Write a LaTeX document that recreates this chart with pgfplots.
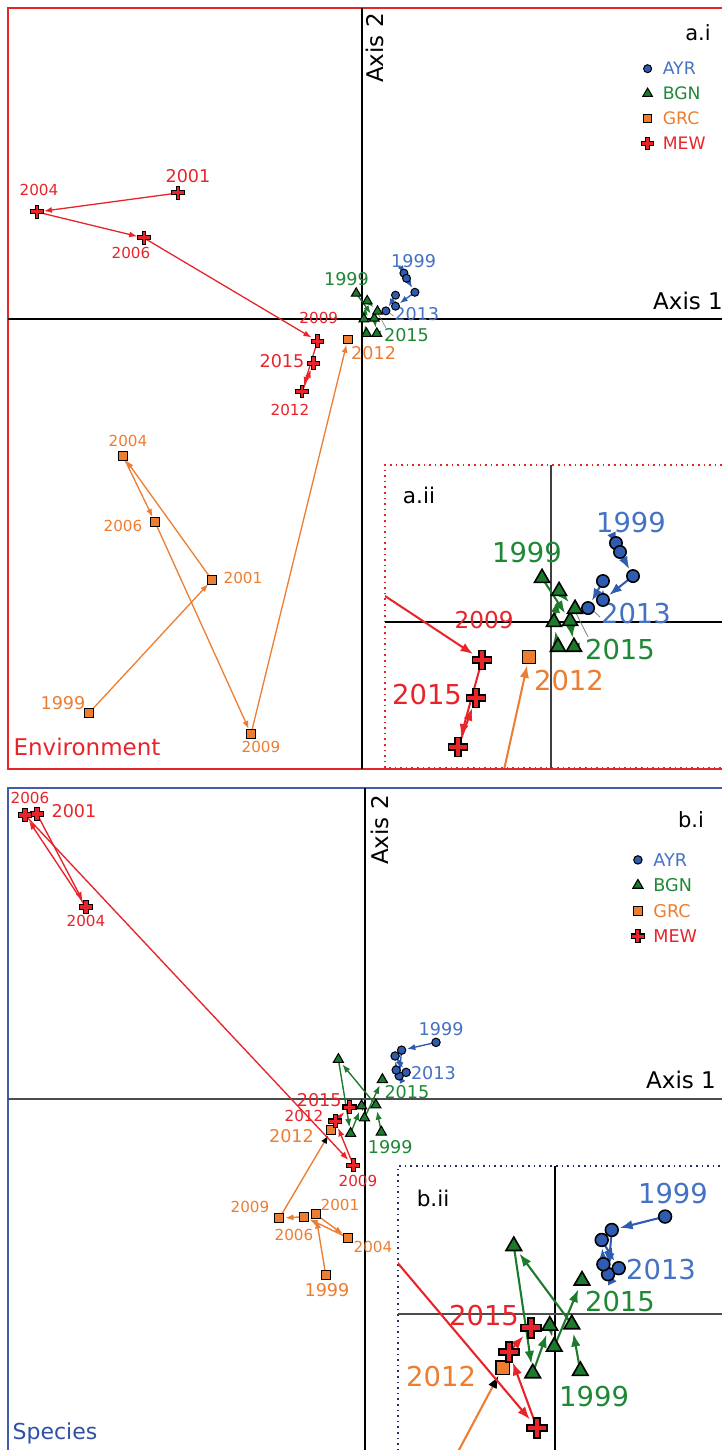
\documentclass[border=0pt]{standalone}
\usepackage{fontspec}
\setmainfont{DejaVu Sans}
\usepackage{pgfplots}
\usepackage{pgfplotstable}
\pgfplotsset{compat=1.18}
\usetikzlibrary{arrows.meta}

\definecolor{mewred}{RGB}{232,36,43}
\definecolor{grcor}{RGB}{237,125,49}
\definecolor{bgnfill}{RGB}{28,122,44}
\definecolor{bgntext}{RGB}{30,136,52}
\definecolor{ayrfill}{RGB}{47,92,176}
\definecolor{ayrtext}{RGB}{68,114,196}
\definecolor{frameb}{RGB}{64,92,170}
\definecolor{specb}{RGB}{48,80,168}
\definecolor{navyd}{RGB}{35,45,110}

\pgfdeclareplotmark{fatplus}{%
 \pgfpathmoveto{\pgfpoint{0.32\pgfplotmarksize}{\pgfplotmarksize}}%
 \pgfpathlineto{\pgfpoint{0.32\pgfplotmarksize}{0.32\pgfplotmarksize}}%
 \pgfpathlineto{\pgfpoint{\pgfplotmarksize}{0.32\pgfplotmarksize}}%
 \pgfpathlineto{\pgfpoint{\pgfplotmarksize}{-0.32\pgfplotmarksize}}%
 \pgfpathlineto{\pgfpoint{0.32\pgfplotmarksize}{-0.32\pgfplotmarksize}}%
 \pgfpathlineto{\pgfpoint{0.32\pgfplotmarksize}{-\pgfplotmarksize}}%
 \pgfpathlineto{\pgfpoint{-0.32\pgfplotmarksize}{-\pgfplotmarksize}}%
 \pgfpathlineto{\pgfpoint{-0.32\pgfplotmarksize}{-0.32\pgfplotmarksize}}%
 \pgfpathlineto{\pgfpoint{-\pgfplotmarksize}{-0.32\pgfplotmarksize}}%
 \pgfpathlineto{\pgfpoint{-\pgfplotmarksize}{0.32\pgfplotmarksize}}%
 \pgfpathlineto{\pgfpoint{-0.32\pgfplotmarksize}{0.32\pgfplotmarksize}}%
 \pgfpathlineto{\pgfpoint{-0.32\pgfplotmarksize}{\pgfplotmarksize}}%
 \pgfpathclose
 \pgfusepathqfillstroke
}

% ---------------- data (x y next-x next-y) ----------------
\pgfplotstableread{
x y nx ny
41.9 45.9 44.5 40.7
44.5 40.7 52.9 26.7
52.9 26.7 33.5 12.8
33.5 12.8 33.5 23.8
33.5 23.8 23.9 8.1
23.9 8.1 23.9 8.1
}\ayrA
\pgfplotstableread{
x y nx ny
-5.8 25.6 12.3 0.6
12.3 0.6 14.8 -14.5
14.8 -14.5 4.5 -14.5
4.5 -14.5 1.9 0
1.9 0 5.2 18.0
5.2 18.0 15.5 7.6
15.5 7.6 15.5 7.6
}\bgnA
\pgfplotstableread{
x y nx ny
-273 -394 -150 -261
-150 -261 -239 -137
-239 -137 -207 -203
-207 -203 -111 -415
-111 -415 -14.2 -20.3
-14.2 -20.3 -14.2 -20.3
}\grcA
\pgfplotstableread{
x y nx ny
-184 126 -325 107
-325 107 -218 81
-218 81 -44.5 -22.1
-44.5 -22.1 -60 -72.7
-60 -72.7 -48.4 -44.2
-48.4 -44.2 -48.4 -44.2
}\mewA
\pgfplotstableread{
x y nx ny
71 56.6 36.6 48.8
36.6 48.8 34.2 23.1
34.2 23.1 31.2 28.9
31.2 28.9 30.1 43
30.1 43 41.1 26.6
41.1 26.6 41.1 26.6
}\ayrB
\pgfplotstableread{
x y nx ny
16.3 -33.1 10.8 -6.0
10.8 -6.0 -26.6 39.5
-26.6 39.5 -14.4 -34.5
-14.4 -34.5 -3.4 -6.8
-3.4 -6.8 -0.5 -19.0
-0.5 -19.0 17.4 19.4
17.4 19.4 17.4 19.4
}\bgnB
\pgfplotstableread{
x y nx ny
-39.3 -176 -49.3 -115.3
-49.3 -115.3 -17.3 -138.7
-17.3 -138.7 -61 -117.7
-61 -117.7 -85.7 -119.3
-85.7 -119.3 -33.7 -31.2
-33.7 -31.2 -33.7 -31.2
}\grcB
\pgfplotstableread{
x y nx ny
-328 285 -279 192
-279 192 -340 284
-340 284 -11.6 -66.3
-11.6 -66.3 -29.7 -22.1
-29.7 -22.1 -15.5 -8.1
-15.5 -8.1 -15.5 -8.1
}\mewB

\newcommand\setK[1]{%
 \pgfmathsetmacro\KLw{0.65*#1}%
 \pgfmathsetmacro\KAl{4.0*#1}\pgfmathsetmacro\KAw{3.0*#1}%
 \pgfmathsetmacro\KOlw{0.5*#1}%
 \pgfmathsetmacro\KmsC{2.0*#1}\pgfmathsetmacro\KmsT{2.8*#1}%
 \pgfmathsetmacro\KmsS{2.1*#1}\pgfmathsetmacro\KmsP{3.1*#1}%
 \pgfmathsetmacro\KshC{2.6*#1}\pgfmathsetmacro\KshT{3.0*#1}%
 \pgfmathsetmacro\KshS{2.8*#1}\pgfmathsetmacro\KshP{3.5*#1}%
}
\pgfplotsset{
 panel/.style={scale only axis, anchor=south west, axis lines=box,
   xtick=\empty, ytick=\empty, clip=true},
 trj/.style={forget plot, line width=\KLw pt, -{Latex[length=\KAl pt,width=\KAw pt]},
   quiver={u=\thisrow{nx}-\thisrow{x}, v=\thisrow{ny}-\thisrow{y}}},
 lmk/.style={legend image code/.code={\draw[##1] plot coordinates {(0pt,0pt)};}},
}
\newcommand\traj[4]{\addplot[trj, color=#2, shorten >=#4 pt, skip coords between index={#3}{100}] table {#1};}
\newcommand\drawmarkers[4]{%
 \addplot[only marks, mark=*, mark size=\KmsC pt, mark options={fill=ayrfill, draw=black, line width=\KOlw pt}, lmk] table[x=x,y=y] {#1};
 \addplot[only marks, mark=triangle*, mark size=\KmsT pt, mark options={fill=bgnfill, draw=black, line width=\KOlw pt}, lmk] table[x=x,y=y] {#2};
 \addplot[only marks, mark=square*, mark size=\KmsS pt, mark options={fill=grcor, draw=black, line width=\KOlw pt}, lmk] table[x=x,y=y] {#3};
 \addplot[only marks, mark=fatplus, mark size=\KmsP pt, mark options={fill=mewred, draw=black, line width=\KOlw pt}, lmk] table[x=x,y=y] {#4};
}
\newcommand\lab[4]{\node[text=#1,font=#2,inner sep=0pt] at (axis cs:#3) {#4};}
\newcommand\ysm{\fontsize{7.6}{8}\selectfont}
\newcommand\ybg{\fontsize{8.8}{9}\selectfont}
\newcommand\ysi{\fontsize{11.6}{12}\selectfont}
\newcommand\ybi{\fontsize{13.7}{14}\selectfont}
\newcommand\axf{\fontsize{11.5}{12}\selectfont}

\begin{document}
\begin{tikzpicture}
\useasboundingbox (0,0) rectangle (361pt,725pt);

% ================= Panel a.i =================
\setK{1}
\begin{axis}[panel, at={(4pt,340.5pt)}, width=359pt, height=380.5pt,
  xmin=-354, xmax=364, ymin=-450, ymax=311,
  axis line style={mewred, line width=0.8pt},
  legend style={draw=none, fill=none, at={(axis cs:279,257)}, anchor=north west,
    inner sep=0pt, row sep=6.2pt, column sep=4.5pt,
    nodes={inner sep=0pt, text height=6.3pt, text depth=0pt},
    font=\fontsize{8.6}{9}\selectfont},
  legend cell align=left]
 \draw[black, line width=0.6pt] (axis cs:0,-450) -- (axis cs:0,311);
 \draw[black, line width=0.6pt] (axis cs:-354,0) -- (axis cs:364,0);
 \traj{\grcA}{grcor}{5}{\KshS}
 \traj{\mewA}{mewred}{5}{\KshP}
 \traj{\bgnA}{bgnfill}{6}{\KshT}
 \traj{\ayrA}{ayrfill}{5}{\KshC}
 \draw[gray, line width=0.3pt] (axis cs:26,7.6) -- (axis cs:31.6,2.9);
 \draw[gray, line width=0.3pt] (axis cs:16.1,5.2) -- (axis cs:23.9,-8.7);
 \drawmarkers{\ayrA}{\bgnA}{\grcA}{\mewA}
 \legend{\textcolor{ayrtext}{AYR},\textcolor{bgntext}{BGN},\textcolor{grcor}{GRC},\textcolor{mewred}{MEW}}
 \lab{mewred}{\ybg}{-174,143}{2001}
 \lab{mewred}{\ysm}{-323,129}{2004}
 \lab{mewred}{\ysm}{-231,66}{2006}
 \lab{mewred}{\ysm}{-43.2,1.2}{2009}
 \lab{mewred}{\ybg}{-80,-42.4}{2015}
 \lab{mewred}{\ysm}{-72,-91}{2012}
 \lab{grcor}{\ysm}{-234,-122}{2004}
 \lab{grcor}{\ysm}{-239,-207}{2006}
 \lab{grcor}{\ysm}{-119,-259}{2001}
 \lab{grcor}{\ybg}{-299,-384}{1999}
 \lab{grcor}{\ysm}{-101,-428}{2009}
 \lab{grcor}{\ybg}{11.6,-34.3}{2012}
 \lab{bgntext}{\ybg}{-15.5,40.1}{1999}
 \lab{bgntext}{\ybg}{44.5,-16.3}{2015}
 \lab{ayrtext}{\ybg}{51.6,58.1}{1999}
 \lab{ayrtext}{\ybg}{54.8,4.7}{2013}
 \node[font=\axf, rotate=90, inner sep=0pt] at (axis cs:13,271) {Axis 2};
 \node[font=\axf, inner sep=0pt] at (axis cs:326,18) {Axis 1};
 \node[font=\fontsize{10.5}{11}\selectfont, inner sep=0pt] at (axis cs:336,286) {a.i};
 \node[font=\axf, text=mewred, inner sep=0pt] at (axis cs:-275,-428) {Environment};
\end{axis}

% ================= Panel a.ii (inset) =================
\setK{1.55}
\begin{axis}[panel, at={(192.5pt,341pt)}, width=170.5pt, height=151.5pt,
  xmin=-107.1, xmax=112.9, ymin=-84.9, ymax=91.3,
  axis line style={mewred, dotted, line width=0.8pt},
  axis background/.style={fill=white}]
 \draw[black!75, line width=0.7pt] (axis cs:0,-84.9) -- (axis cs:0,91.3);
 \draw[black, line width=0.6pt] (axis cs:-107.1,0) -- (axis cs:112.9,0);
 \traj{\grcA}{grcor}{5}{\KshS}
 \traj{\mewA}{mewred}{5}{\KshP}
 \traj{\bgnA}{bgnfill}{6}{\KshT}
 \traj{\ayrA}{ayrfill}{5}{\KshC}
 \draw[gray, line width=0.4pt] (axis cs:26,7.6) -- (axis cs:31.6,2.9);
 \draw[gray, line width=0.4pt] (axis cs:16.1,5.2) -- (axis cs:23.9,-8.7);
 \drawmarkers{\ayrA}{\bgnA}{\grcA}{\mewA}
 \lab{mewred}{\ysi}{-43.2,1.2}{2009}
 \lab{mewred}{\ybi}{-80,-42.4}{2015}
 \lab{grcor}{\ybi}{11.6,-34.3}{2012}
 \lab{bgntext}{\ybi}{-15.5,40.1}{1999}
 \lab{bgntext}{\ybi}{44.5,-16.3}{2015}
 \lab{ayrtext}{\ybi}{51.6,58.1}{1999}
 \lab{ayrtext}{\ybi}{54.8,4.7}{2013}
 \node[font=\fontsize{10.8}{11}\selectfont, inner sep=0pt] at (axis cs:-85.2,73.8) {a.ii};
\end{axis}

% ================= Panel b.i =================
\setK{1.05}
\begin{axis}[panel, at={(4pt,-3pt)}, width=359pt, height=334pt,
  xmin=-357, xmax=361, ymin=-357, ymax=311,
  axis line style={frameb, line width=0.8pt},
  legend style={draw=none, fill=none, at={(axis cs:266,246)}, anchor=north west,
    inner sep=0pt, row sep=6.2pt, column sep=4.5pt,
    nodes={inner sep=0pt, text height=6.5pt, text depth=0pt},
    font=\fontsize{8.8}{9}\selectfont},
  legend cell align=left]
 \draw[black, line width=0.6pt] (axis cs:0,-357) -- (axis cs:0,311);
 \draw[black!70, line width=0.7pt] (axis cs:-357,0) -- (axis cs:361,0);
 \traj{\grcB}{grcor}{4}{\KshS}
 \addplot[forget plot, grcor, line width=\KLw pt, -{Latex[length=\KAl pt,width=\KAw pt,color=black]}, shorten >=\KshS pt] coordinates {(-85.7,-119.3) (-33.7,-31.2)};
 \traj{\mewB}{mewred}{5}{\KshP}
 \traj{\bgnB}{bgnfill}{6}{\KshT}
 \traj{\ayrB}{ayrfill}{5}{\KshC}
 \drawmarkers{\ayrB}{\bgnB}{\grcB}{\mewB}
 \legend{\textcolor{ayrtext}{AYR},\textcolor{bgntext}{BGN},\textcolor{grcor}{GRC},\textcolor{mewred}{MEW}}
 \lab{mewred}{\ysm}{-335,301}{2006}
 \lab{mewred}{\ybg}{-291,288}{2001}
 \lab{mewred}{\ysm}{-279,178}{2004}
 \lab{mewred}{\ybg}{-45.8,-1.2}{2015}
 \lab{mewred}{\ysm}{-61,-17}{2012}
 \lab{mewred}{\ysm}{-7,-82}{2009}
 \lab{grcor}{\ybg}{-73.5,-36.6}{2012}
 \lab{grcor}{\ysm}{-115,-108}{2009}
 \lab{grcor}{\ysm}{-71,-136}{2006}
 \lab{grcor}{\ysm}{-25,-106}{2001}
 \lab{grcor}{\ysm}{8,-148}{2004}
 \lab{grcor}{\ybg}{-38,-191}{1999}
 \lab{ayrtext}{\ybg}{76.1,69.8}{1999}
 \lab{ayrtext}{\ybg}{68.4,25.6}{2013}
 \lab{bgntext}{\ybg}{41.9,7}{2015}
 \lab{bgntext}{\ybg}{25.2,-48.3}{1999}
 \node[font=\axf, rotate=90, inner sep=0pt] at (axis cs:15,269) {Axis 2};
 \node[font=\axf, inner sep=0pt] at (axis cs:316,19) {Axis 1};
 \node[font=\fontsize{10.5}{11}\selectfont, inner sep=0pt] at (axis cs:326,279) {b.i};
 \node[font=\fontsize{11}{12}\selectfont, text=specb, inner sep=0pt] at (axis cs:-310,-334) {Species};
\end{axis}

% ================= Panel b.ii (inset) =================
\setK{1.6}
\begin{axis}[panel, at={(199pt,-3pt)}, width=164pt, height=145pt,
  xmin=-101.3, xmax=110.3, ymin=-82.6, ymax=86.0,
  axis line style={navyd, dotted, line width=0.8pt},
  axis background/.style={fill=white}]
 \draw[black, line width=0.6pt] (axis cs:0,-82.6) -- (axis cs:0,86);
 \draw[black!70, line width=0.7pt] (axis cs:-101.3,0) -- (axis cs:110.3,0);
 \traj{\grcB}{grcor}{4}{\KshS}
 \addplot[forget plot, grcor, line width=\KLw pt, -{Latex[length=\KAl pt,width=\KAw pt,color=black]}, shorten >=\KshS pt] coordinates {(-85.7,-119.3) (-33.7,-31.2)};
 \traj{\mewB}{mewred}{5}{\KshP}
 \traj{\bgnB}{bgnfill}{6}{\KshT}
 \traj{\ayrB}{ayrfill}{5}{\KshC}
 \drawmarkers{\ayrB}{\bgnB}{\grcB}{\mewB}
 \lab{ayrtext}{\ybi}{76.1,69.8}{1999}
 \lab{ayrtext}{\ybi}{68.4,25.6}{2013}
 \lab{bgntext}{\ybi}{41.9,7}{2015}
 \lab{bgntext}{\ybi}{25.2,-48.3}{1999}
 \lab{mewred}{\ybi}{-45.8,-1.2}{2015}
 \lab{grcor}{\ybi}{-73.5,-36.6}{2012}
 \node[font=\fontsize{10.8}{11}\selectfont, inner sep=0pt] at (axis cs:-78.7,67.4) {b.ii};
\end{axis}
\end{tikzpicture}
\end{document}
